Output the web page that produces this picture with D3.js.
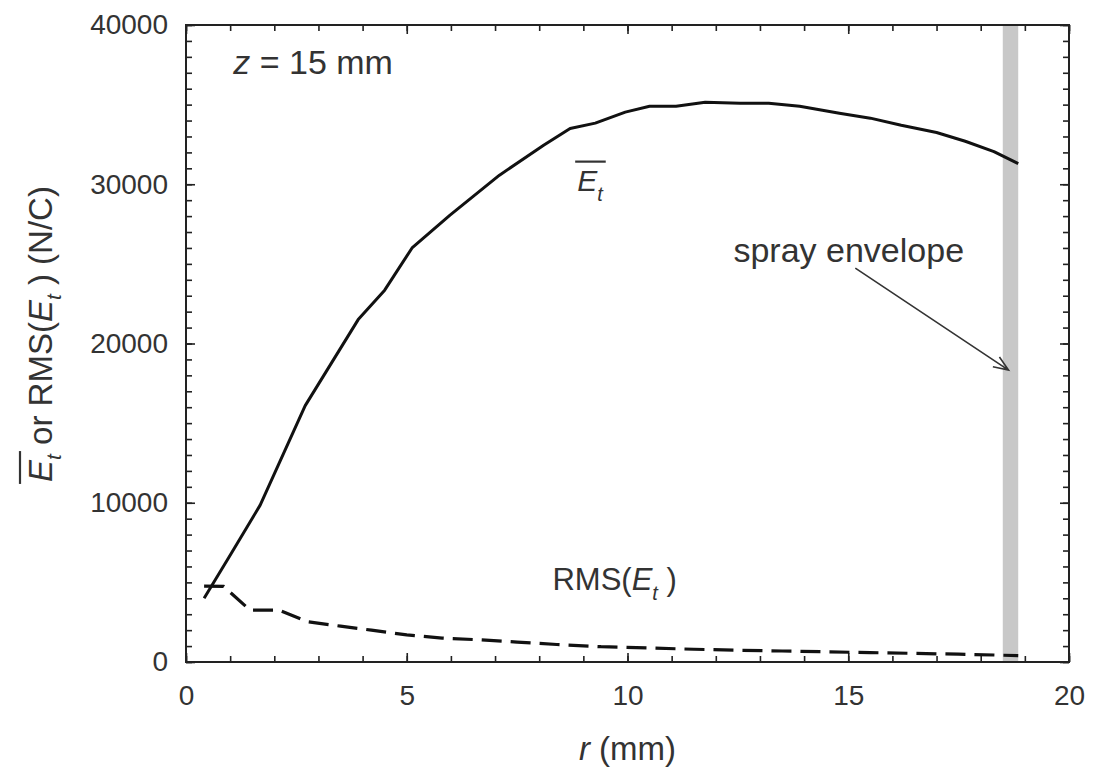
<!DOCTYPE html>
<html><head><meta charset="utf-8">
<script src="https://cdn.jsdelivr.net/npm/d3@7"></script>
<style>
body{margin:0;background:#fff}
svg{display:block}
text{font-family:"Liberation Sans",Arial,sans-serif;fill:#333}
</style>
</head><body><svg id="c" width="1094" height="776"></svg>
<script>
// ---- data ----
const etR = [0.41,1.0,1.68,2.7,3.9,4.5,5.12,5.98,7.1,8.1,8.7,9.27,9.95,10.5,11.1,11.76,12.55,13.2,13.9,14.8,15.5,16.2,17.0,17.65,18.3,18.85];
const etV = [4000,6700,9850,16100,21500,23350,26000,28060,30570,32450,33500,33840,34530,34900,34900,35150,35090,35090,34900,34460,34150,33700,33250,32700,32050,31300];
const rmsR = [0.41,0.85,1.45,2.1,2.75,3.5,4.2,5.0,5.8,6.6,7.5,8.4,9.4,10.5,11.5,12.5,13.5,14.5,15.5,16.5,17.5,18.3,18.85];
const rmsV = [4770,4750,3260,3260,2530,2250,2000,1700,1500,1400,1250,1100,960,880,800,740,690,640,590,540,490,440,400];
const xTicks = [0,5,10,15,20];
const yTicks = [0,10000,20000,30000,40000];
const sprayBand = [18.5,18.85];

// ---- layout ----
const svg = d3.select("#c");
const x = d3.scaleLinear().domain([0,20]).range([186,1069]);
const y = d3.scaleLinear().domain([0,40000]).range([662,25]);
const X0=x(0), X1=x(20), Y0=y(0), Y1=y(40000);

// spray envelope band
svg.append("rect").attr("x",x(sprayBand[0])).attr("y",Y1)
  .attr("width",x(sprayBand[1])-x(sprayBand[0])).attr("height",Y0-Y1)
  .attr("fill","#c8c8c8");

// axes
const minorX = d3.range(0,21,1), minorY = d3.range(0,40001,1000);
function addAxis(axis, tr){
  const g = svg.append("g").attr("transform",tr).call(axis);
  g.select(".domain").remove();
  g.selectAll(".tick line").attr("stroke","#222").attr("stroke-width",1.6);
  return g;
}
addAxis(d3.axisBottom(x).tickValues(minorX).tickSize(-6).tickFormat(""),`translate(0,${Y0})`);
addAxis(d3.axisTop(x).tickValues(minorX).tickSize(-6).tickFormat(""),`translate(0,${Y1})`);
addAxis(d3.axisLeft(y).tickValues(minorY).tickSize(-6).tickFormat(""),`translate(${X0},0)`);
addAxis(d3.axisRight(y).tickValues(minorY).tickSize(-6).tickFormat(""),`translate(${X1},0)`);
const gb = addAxis(d3.axisBottom(x).tickValues(xTicks).tickSize(-9).tickPadding(23).tickFormat(d3.format("d")),`translate(0,${Y0})`);
addAxis(d3.axisTop(x).tickValues(xTicks).tickSize(-9).tickFormat(""),`translate(0,${Y1})`);
const gl = addAxis(d3.axisLeft(y).tickValues(yTicks).tickSize(-9).tickPadding(18).tickFormat(d3.format("d")),`translate(${X0},0)`);
addAxis(d3.axisRight(y).tickValues(yTicks).tickSize(-9).tickFormat(""),`translate(${X1},0)`);
[gb,gl].forEach(g=>g.selectAll(".tick text").attr("font-size",28).attr("font-family","Liberation Sans, Arial, sans-serif").attr("fill","#333"));

svg.append("rect").attr("x",X0).attr("y",Y1).attr("width",X1-X0).attr("height",Y0-Y1)
  .attr("fill","none").attr("stroke","#222").attr("stroke-width",2);

// lines
const line = d3.line().x(d=>x(d[0])).y(d=>y(d[1]));
svg.append("path").datum(etR.map((r,i)=>[r,etV[i]])).attr("d",line)
  .attr("fill","none").attr("stroke","#111").attr("stroke-width",3).attr("stroke-linejoin","round");
svg.append("path").datum(rmsR.map((r,i)=>[r,rmsV[i]])).attr("d",line)
  .attr("fill","none").attr("stroke","#111").attr("stroke-width",3.2).attr("stroke-dasharray","20,9");

// overline helper: draws line above chars [i0,i1) of a text element
function overline(textSel, i0, i1, gap, parent){
  const n = textSel.node();
  const s = n.getStartPositionOfChar(i0), e = n.getEndPositionOfChar(i1-1);
  const bb = n.getExtentOfChar(i0);
  parent.append("line").attr("x1",s.x-2).attr("x2",e.x+3)
    .attr("y1",bb.y+gap).attr("y2",bb.y+gap)
    .attr("stroke","#333").attr("stroke-width",2.2);
}

// annotations
const tz = svg.append("text").attr("x",x(1.07)).attr("y",y(36900)).attr("font-size",34);
tz.append("tspan").attr("font-style","italic").text("z");
tz.append("tspan").text(" = 15 mm");

const te = svg.append("text").attr("x",x(8.86)).attr("y",y(29600)).attr("font-size",30);
te.append("tspan").attr("font-style","italic").text("E");
te.append("tspan").attr("font-style","italic").attr("font-size",20).attr("dy",10).text("t");
overline(te,0,2,-2,svg);

const tr = svg.append("text").attr("x",x(8.3)).attr("y",y(4500)).attr("font-size",31);
tr.append("tspan").text("RMS(");
tr.append("tspan").attr("font-style","italic").text("E");
tr.append("tspan").attr("font-style","italic").attr("font-size",20).attr("dy",10).text("t");
tr.append("tspan").attr("dy",-10).text(" )");

svg.append("text").attr("x",x(12.4)).attr("y",y(25100)).attr("font-size",34).text("spray envelope");

// arrow
const ax0=x(15.16), ay0=y(24730), ax1=x(18.63), ay1=y(18330);
const ang = Math.atan2(ay1-ay0, ax1-ax0), hl=16, ha=0.38;
svg.append("path")
  .attr("d",`M${ax0},${ay0}L${ax1},${ay1}M${ax1-hl*Math.cos(ang-ha)},${ay1-hl*Math.sin(ang-ha)}L${ax1},${ay1}L${ax1-hl*Math.cos(ang+ha)},${ay1-hl*Math.sin(ang+ha)}`)
  .attr("fill","none").attr("stroke","#333").attr("stroke-width",1.6);

// x title
const tx = svg.append("text").attr("x",(X0+X1)/2).attr("y",760).attr("text-anchor","middle").attr("font-size",33);
tx.append("tspan").attr("font-style","italic").text("r");
tx.append("tspan").text(" (mm)");

// y title
const gy = svg.append("g").attr("transform",`translate(52,334) rotate(-90)`);
const ty = gy.append("text").attr("x",0).attr("y",0).attr("text-anchor","middle").attr("font-size",33);
ty.append("tspan").attr("font-style","italic").text("E");
ty.append("tspan").attr("font-style","italic").attr("font-size",21).attr("dy",9).text("t");
ty.append("tspan").attr("dy",-9).text(" or RMS(");
ty.append("tspan").attr("font-style","italic").text("E");
ty.append("tspan").attr("font-style","italic").attr("font-size",21).attr("dy",9).text("t");
ty.append("tspan").attr("dy",-9).text(" ) (N/C)");
overline(ty,0,2,-2,gy);
</script>
</body></html>
